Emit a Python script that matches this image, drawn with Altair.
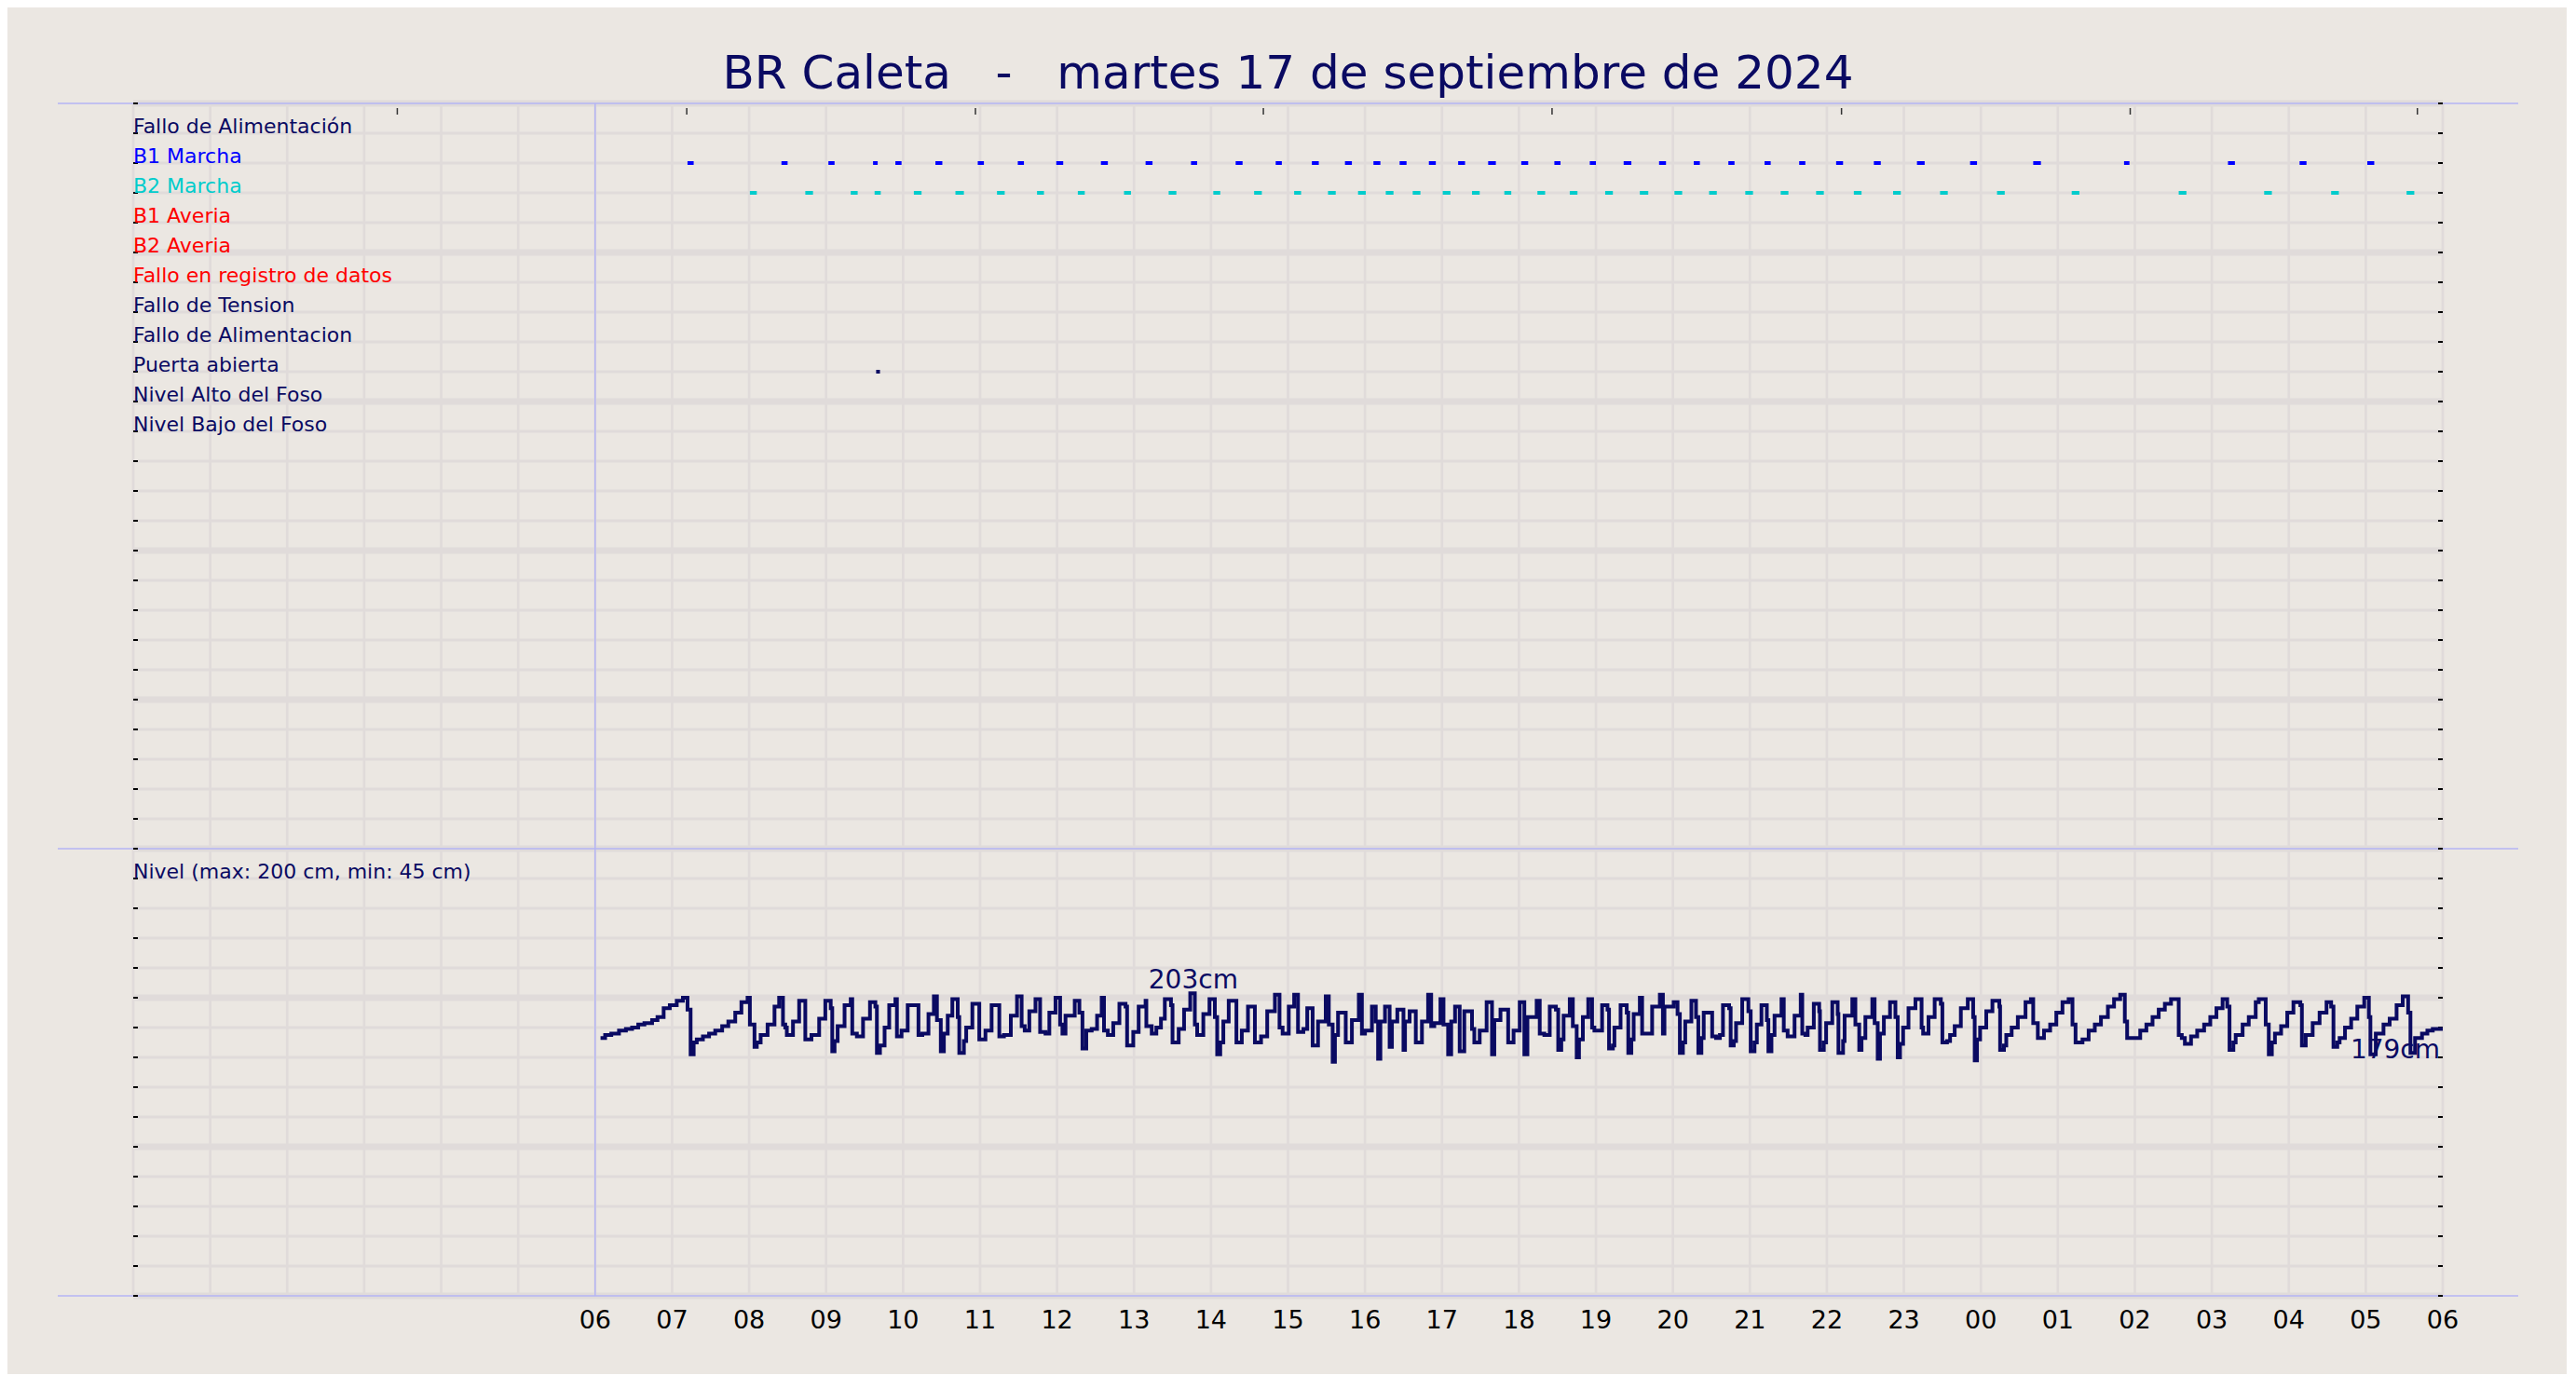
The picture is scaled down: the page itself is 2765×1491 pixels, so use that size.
import altair as alt
import pandas as pd

NAVY = "#0a0a62"
BG = "#ebe7e2"
GRID = "#e0dbda"
LAV = "#b4b4f4"
FONT = "DejaVu Sans"

W, H = 2479, 1280

TITULO = "BR Caleta" + "\u00a0" * 3 + "-" + "\u00a0" * 3 + "martes 17 de septiembre de 2024"

# --- Señales (filas del panel superior, de arriba a abajo) ---
senales = ["Fallo de Alimentación", "B1 Marcha", "B2 Marcha", "B1 Averia", "B2 Averia",
           "Fallo en registro de datos", "Fallo de Tension", "Fallo de Alimentacion",
           "Puerta abierta", "Nivel Alto del Foso", "Nivel Bajo del Foso"]
etiqueta_nivel = "Nivel (max: 200 cm, min: 45 cm)"
senal_colores = [NAVY, "#0000ff", "#00cccc", "#ff0000", "#ff0000", "#ff0000",
                 NAVY, NAVY, NAVY, NAVY, NAVY]

# --- Eje X: horas desde las 00:00 del día 17 ---
horas_rejilla = list(range(0, 31))
horas_etiqueta = list(range(6, 31))
etiquetas_x = ["06", "07", "08", "09", "10", "11", "12", "13", "14", "15", "16", "17", "18",
               "19", "20", "21", "22", "23", "00", "01", "02", "03", "04", "05", "06"]

# --- Eventos (horas desde las 00:00 del día 17) ---
b1_inicio = [7.20, 8.42, 9.03, 9.61, 9.90, 10.42, 10.97, 11.49, 11.99, 12.57, 13.15, 13.74,
             14.32, 14.84, 15.31, 15.74, 16.11, 16.45, 16.83, 17.21, 17.60, 18.03, 18.46, 18.92,
             19.36, 19.82, 20.27, 20.72, 21.19, 21.64, 22.12, 22.61, 23.17, 23.86, 24.68, 25.86,
             27.21, 28.14, 29.02]
b1_fin = [7.28, 8.50, 9.11, 9.67, 9.98, 10.51, 11.05, 11.57, 12.08, 12.66, 13.24, 13.82,
          14.41, 14.92, 15.40, 15.83, 16.20, 16.54, 16.92, 17.30, 17.70, 18.12, 18.54, 19.00,
          19.46, 19.91, 20.35, 20.80, 21.27, 21.72, 22.21, 22.70, 23.27, 23.95, 24.78, 25.93,
          27.30, 28.23, 29.11]
b2_inicio = [8.01, 8.73, 9.32, 9.63, 10.14, 10.68, 11.22, 11.74, 12.27, 12.87, 13.45,
             14.03, 14.56, 15.08, 15.52, 15.91, 16.27, 16.62, 17.01, 17.39, 17.81, 18.24, 18.66,
             19.12, 19.57, 20.02, 20.47, 20.94, 21.40, 21.86, 22.35, 22.86, 23.47, 24.21, 25.18,
             26.57, 27.68, 28.55, 29.53]
b2_fin = [8.10, 8.83, 9.41, 9.71, 10.24, 10.79, 11.32, 11.83, 12.36, 12.96, 13.55,
          14.12, 14.66, 15.17, 15.62, 16.01, 16.37, 16.72, 17.11, 17.49, 17.90, 18.34, 18.76,
          19.22, 19.68, 20.12, 20.57, 21.04, 21.50, 21.96, 22.45, 22.96, 23.57, 24.31, 25.28,
          26.67, 27.78, 28.65, 29.63]
puerta_inicio = [9.65]
puerta_fin = [9.70]

# --- Nivel del foso (cm), escalones ---
nivel_hora = [
    6.07, 6.13, 6.21, 6.31, 6.40, 6.48, 6.56, 6.64, 6.74, 6.81,
    6.89, 6.97, 7.06, 7.14, 7.20, 7.24, 7.28, 7.32, 7.40, 7.48,
    7.56, 7.65, 7.73, 7.82, 7.90, 7.98, 8.01, 8.07, 8.10, 8.15,
    8.24, 8.33, 8.39, 8.44, 8.47, 8.49, 8.57, 8.65, 8.73, 8.81,
    8.91, 8.99, 9.06, 9.08, 9.11, 9.15, 9.24, 9.32, 9.34, 9.40,
    9.48, 9.57, 9.64, 9.66, 9.70, 9.76, 9.82, 9.90, 9.92, 9.98,
    10.06, 10.20, 10.25, 10.33, 10.40, 10.44, 10.49, 10.53, 10.58, 10.64,
    10.71, 10.73, 10.79, 10.82, 10.90, 10.99, 11.07, 11.15, 11.25, 11.31,
    11.40, 11.48, 11.54, 11.58, 11.64, 11.72, 11.78, 11.85, 11.90, 11.98,
    12.04, 12.07, 12.11,
    12.23, 12.29, 12.33, 12.38, 12.45, 12.52, 12.58, 12.61, 12.66, 12.73,
    12.81, 12.89, 12.91, 12.99, 13.06, 13.15, 13.16, 13.23, 13.29, 13.35,
    13.40, 13.48, 13.50, 13.58, 13.65, 13.73, 13.79, 13.82, 13.90, 13.98,
    14.05, 14.08, 14.12, 14.16, 14.23, 14.33, 14.40, 14.48, 14.57, 14.65,
    14.73, 14.83, 14.89, 14.93, 15.01, 15.08, 15.13, 15.20, 15.25, 15.32,
    15.39, 15.49, 15.53, 15.58, 15.61, 15.65, 15.75, 15.83, 15.92, 15.96,
    16.00, 16.09, 16.14, 16.17, 16.20, 16.26, 16.32, 16.35, 16.42, 16.50,
    16.52, 16.58, 16.66, 16.74, 16.82, 16.86, 16.90, 16.98, 17.02, 17.08,
    17.12, 17.17, 17.23, 17.29, 17.39, 17.42, 17.49, 17.58, 17.65, 17.68,
    17.76, 17.86, 17.93, 18.01, 18.07, 18.11, 18.23,
    18.27, 18.33, 18.40, 18.48, 18.51, 18.55, 18.58, 18.66, 18.70, 18.75,
    18.78, 18.83, 18.90, 18.95, 18.98, 19.08, 19.15, 19.17, 19.22, 19.24,
    19.32, 19.40, 19.42, 19.46, 19.49, 19.57, 19.60, 19.67, 19.73, 19.83,
    19.87, 19.89, 20.01, 20.06, 20.09, 20.13, 20.16, 20.24, 20.30, 20.33,
    20.37, 20.40, 20.51, 20.56, 20.61, 20.65, 20.73, 20.75, 20.79, 20.82,
    20.90, 20.98, 21.01, 21.06, 21.09, 21.15, 21.22, 21.24, 21.28, 21.32,
    21.41, 21.44, 21.49, 21.58, 21.66, 21.68, 21.72, 21.75, 21.83, 21.90,
    21.91, 21.96, 21.99, 22.07, 22.14, 22.15, 22.21, 22.23, 22.33, 22.37,
    22.42, 22.45, 22.50, 22.59, 22.62, 22.66, 22.69, 22.74, 22.82, 22.89,
    22.92, 22.95, 22.99, 23.06, 23.15, 23.23, 23.25, 23.32, 23.40, 23.48,
    23.50, 23.56, 23.60, 23.66, 23.74, 23.83, 23.90, 23.92, 23.95, 23.99,
    24.07, 24.15, 24.24, 24.25, 24.30, 24.33, 24.40, 24.48,
    24.58, 24.65, 24.68, 24.74, 24.82, 24.90, 24.98, 25.06, 25.14, 25.19,
    25.23, 25.32, 25.40, 25.48, 25.56, 25.65, 25.73, 25.81, 25.87, 25.90,
    25.99, 26.07, 26.15, 26.23, 26.31, 26.39, 26.47, 26.57, 26.61, 26.65,
    26.73, 26.81, 26.90, 26.98, 27.06, 27.14, 27.20, 27.23, 27.28, 27.31,
    27.40, 27.48, 27.57, 27.61, 27.70, 27.74, 27.78, 27.82, 27.90, 27.98,
    28.06, 28.15, 28.17, 28.22, 28.31, 28.40, 28.49, 28.55, 28.58, 28.63,
    28.66, 28.73, 28.81, 28.89, 28.98, 29.04, 29.06, 29.13, 29.23, 29.31,
    29.40, 29.48, 29.55, 29.58, 29.64, 29.73, 29.80, 29.87, 30.00,
]
nivel_cm = [
    173, 175, 176, 178, 179, 180, 182, 183, 185, 187,
    193, 195, 198, 200, 192, 162, 170, 172, 174, 176,
    178, 181, 184, 190, 197, 200, 182, 167, 170, 175,
    182, 194, 200, 182, 180, 175, 184, 198, 172, 175,
    186, 198, 193, 164, 171, 181, 195, 199, 176, 174,
    186, 197, 194, 163, 168, 180, 195, 199, 174, 178,
    195, 175, 176, 189, 201, 185, 164, 176, 188, 199,
    187, 163, 171, 180, 196, 172, 178, 195, 174, 175,
    188, 201, 181, 178, 191, 199, 177, 176, 190, 200,
    182, 176, 188,
    198, 190, 166, 178, 179, 188, 200, 178, 175, 183,
    196, 194, 168, 177, 194, 198, 181, 176, 180, 186,
    199, 195, 170, 179, 192, 203, 182, 175, 189, 199,
    187, 162, 170, 184, 198, 170, 178, 194, 170, 174,
    191, 202, 180, 176, 194, 202, 177, 179, 193, 168,
    184, 201, 182, 157, 175, 190, 170, 185, 202, 176,
    178, 194, 184, 159, 184, 194, 167, 184, 192, 165,
    184, 191, 170, 184, 202, 181, 183, 199, 182, 162,
    184, 194, 164, 191, 179, 170, 178, 197, 162, 185,
    192, 170, 178, 197, 162, 187, 198,
    176, 175, 194, 192, 165, 172, 188, 199, 181, 160,
    172, 187, 199, 180, 178, 195, 192, 166, 168, 180,
    195, 190, 163, 172, 189, 200, 176, 176, 194, 202,
    176, 194, 197, 189, 163, 170, 184, 198, 187, 163,
    173, 190, 174, 173, 175, 195, 193, 168, 171, 183,
    199, 191, 164, 170, 182, 195, 185, 164, 175, 188,
    199, 178, 174, 188, 202, 176, 175, 180, 196, 191,
    165, 170, 183, 197, 189, 163, 171, 188, 199, 182,
    165, 173, 187, 199, 183, 159, 176, 187, 197, 187,
    160, 169, 180, 193, 199, 180, 176, 187, 199, 196,
    170, 171, 175, 181, 193, 199, 187, 158, 172, 180,
    191, 198, 194, 165, 168, 175, 180, 187,
    197, 199, 183, 173, 178, 182, 190, 197, 199, 182,
    170, 172, 178, 182, 187, 194, 199, 202, 184, 173,
    173, 178, 182, 187, 192, 196, 199, 175, 173, 169,
    174, 178, 182, 187, 193, 199, 194, 165, 170, 175,
    182, 187, 197, 199, 182, 162, 170, 176, 181, 190,
    197, 195, 168, 175, 183, 190, 197, 194, 167, 170,
    173, 180, 186, 194, 200, 187, 162, 176, 182, 186,
    195, 201, 190, 163, 173, 176, 178, 179, 179,
]

# Etiquetas de nivel
max_texto, max_hora, max_cm = "203cm", 13.77, 203
fin_texto, fin_hora, fin_cm = "179cm", 30.0, 179

# Marcas superiores (horas)
marcas_superiores = [3.43, 7.19, 10.94, 14.68, 18.43, 22.19, 25.94, 29.67]

# ---------------------------------------------------------------
FILAS_TOTALES = 40  # 25 filas de señales + 15 filas de nivel (20 cm cada una)

df_nivel = pd.DataFrame({"hora": nivel_hora, "cm": nivel_cm})

eventos = []
for senal, ini, fin in [("B1 Marcha", b1_inicio, b1_fin),
                        ("B2 Marcha", b2_inicio, b2_fin),
                        ("Puerta abierta", puerta_inicio, puerta_fin)]:
    idx = senales.index(senal)
    for a, b in zip(ini, fin):
        eventos.append({"senal": senal, "inicio": a, "fin": b, "fila": FILAS_TOTALES - 1 - idx})
df_ev = pd.DataFrame(eventos)

df_lab = pd.DataFrame({
    "senal": senales + [etiqueta_nivel],
    "fila": [FILAS_TOTALES - 1 - i for i in range(len(senales))] + [14],
})

color_sc = alt.Scale(domain=senales + [etiqueta_nivel], range=senal_colores + [NAVY])
x_sc = alt.Scale(domain=[0, 30], nice=False, zero=False)
y_sc = alt.Scale(domain=[0, FILAS_TOTALES], nice=False, zero=False)

df_filas = pd.DataFrame({"fila": list(range(0, FILAS_TOTALES + 1))})

# Rejilla
rejilla_v = alt.Chart(pd.DataFrame({"hora": horas_rejilla})).mark_rule(
    color=GRID, strokeWidth=2.7
).encode(
    x=alt.X("hora:Q", scale=x_sc, axis=None),
    y=alt.value(0), y2=alt.value(H),
)
rejilla_h = alt.Chart(df_filas).mark_rule(color=GRID).encode(
    y=alt.Y("fila:Q", scale=y_sc, axis=None),
    x=alt.value(0), x2=alt.value(W),
    strokeWidth=alt.condition("datum.fila % 5 === 0", alt.value(7), alt.value(3)),
)

linea = alt.Chart(df_nivel).transform_calculate(
    fila="datum.cm / 20"
).mark_line(
    interpolate="step-after", color=NAVY, strokeWidth=4, strokeJoin="miter", strokeCap="butt"
).encode(
    x=alt.X("hora:Q", scale=x_sc, axis=None),
    y=alt.Y("fila:Q", scale=y_sc, axis=None),
)

limites = alt.Chart(pd.DataFrame({"fila": [0, 15, FILAS_TOTALES]})).mark_rule(
    color=LAV, strokeWidth=1.5
).encode(
    y=alt.Y("fila:Q", scale=y_sc, axis=None),
    x=alt.value(-81), x2=alt.value(W + 81),
)

inicio_dia = alt.Chart(pd.DataFrame({"hora": [6]})).mark_rule(
    color=LAV, strokeWidth=1.5
).encode(
    x=alt.X("hora:Q", scale=x_sc, axis=None),
    y=alt.value(0), y2=alt.value(H),
)

ticks_izq = alt.Chart(df_filas).mark_rule(color="#000000", strokeWidth=2).encode(
    y=alt.Y("fila:Q", scale=y_sc, axis=None), x=alt.value(0), x2=alt.value(5))
ticks_der = alt.Chart(df_filas).mark_rule(color="#000000", strokeWidth=2).encode(
    y=alt.Y("fila:Q", scale=y_sc, axis=None), x=alt.value(W - 5), x2=alt.value(W))

ticks_sup = alt.Chart(pd.DataFrame({"hora": marcas_superiores})).mark_rule(
    color="#333333", strokeWidth=1.5
).encode(
    x=alt.X("hora:Q", scale=x_sc, axis=None), y=alt.value(5), y2=alt.value(12))

marcas = alt.Chart(df_ev).mark_rule(strokeWidth=4, strokeCap="butt").encode(
    x=alt.X("inicio:Q", scale=x_sc, axis=None),
    x2="fin:Q",
    y=alt.Y("fila:Q", scale=y_sc, axis=None),
    color=alt.Color("senal:N", scale=color_sc, legend=None),
)

textos = alt.Chart(df_lab).mark_text(
    align="left", baseline="alphabetic", font=FONT, fontSize=22
).encode(
    x=alt.value(0),
    y=alt.Y("fila:Q", scale=y_sc, axis=None),
    color=alt.Color("senal:N", scale=color_sc, legend=None),
    text="senal:N",
)

eje_x = alt.Chart(pd.DataFrame({"hora": horas_etiqueta, "etiqueta": etiquetas_x})).mark_text(
    align="center", baseline="top", font=FONT, fontSize=27, color="#000000"
).encode(
    x=alt.X("hora:Q", scale=x_sc, axis=None),
    y=alt.value(H + 14),
    text="etiqueta:N",
)

lab_max = alt.Chart(pd.DataFrame({"hora": [max_hora], "cm": [max_cm], "texto": [max_texto]})).transform_calculate(
    fila="datum.cm / 20"
).mark_text(
    align="center", baseline="alphabetic", dy=-5, font=FONT, fontSize=28, color=NAVY
).encode(
    x=alt.X("hora:Q", scale=x_sc, axis=None),
    y=alt.Y("fila:Q", scale=y_sc, axis=None),
    text="texto:N",
)

lab_fin = alt.Chart(pd.DataFrame({"hora": [fin_hora], "cm": [fin_cm], "texto": [fin_texto]})).transform_calculate(
    fila="datum.cm / 20"
).mark_text(
    align="right", baseline="top", dx=-3, dy=9, font=FONT, fontSize=28, color=NAVY
).encode(
    x=alt.X("hora:Q", scale=x_sc, axis=None),
    y=alt.Y("fila:Q", scale=y_sc, axis=None),
    text="texto:N",
)

chart = alt.layer(
    rejilla_v, rejilla_h, limites, inicio_dia, ticks_izq, ticks_der, ticks_sup,
    linea, marcas, textos, eje_x, lab_max, lab_fin
).properties(
    width=W, height=H,
    autosize=alt.AutoSizeParams(type="none"),
    padding={"left": 135, "top": 103, "right": 133, "bottom": 84},
    background=BG,
    title=alt.TitleParams(
        text=TITULO, font=FONT, fontSize=50, fontWeight="normal", color=NAVY,
        anchor="middle", baseline="alphabetic", offset=-37,
    ),
).configure_view(stroke="transparent")

chart.save("out.html", embed_options={"renderer": "svg", "actions": False})
